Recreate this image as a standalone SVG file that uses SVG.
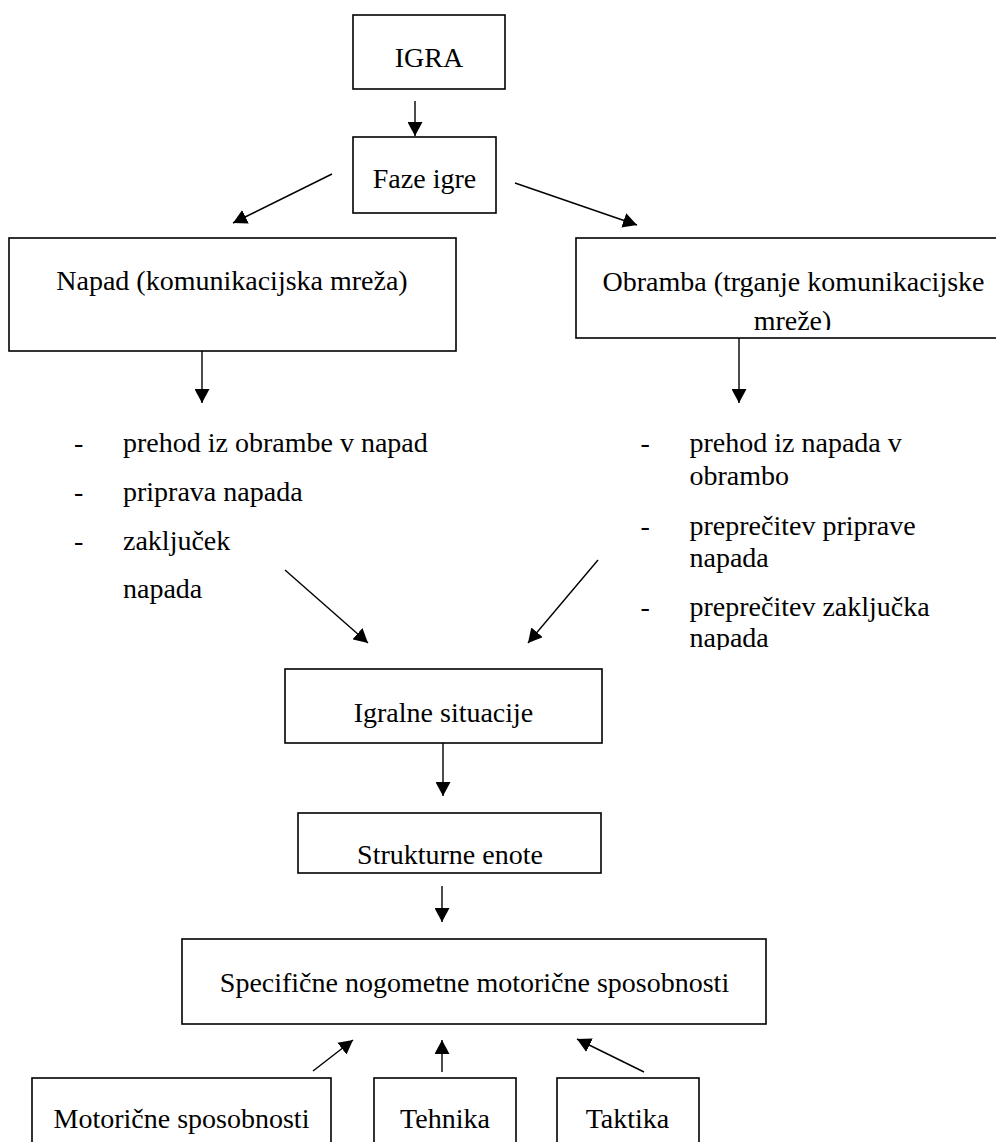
<svg xmlns="http://www.w3.org/2000/svg" width="996" height="1142" viewBox="0 0 996 1142">
<style>
.box{fill:#fff;stroke:#000;stroke-width:1.6}
.t{font-family:"Liberation Serif","Times New Roman",serif;font-size:28px;fill:#000}
.c{text-anchor:middle}
.ln{stroke:#000;stroke-width:1.4;fill:none;marker-end:url(#ah)}
</style>
<defs>
<marker id="ah" viewBox="0 0 14 15" refX="14" refY="7.5" markerWidth="14" markerHeight="15" orient="auto" markerUnits="userSpaceOnUse">
<path d="M0,0 L14,7.5 L0,15 z" fill="#000"/>
</marker>
<clipPath id="clipOb"><rect x="576" y="238" width="440" height="92"/></clipPath>
<clipPath id="clipR"><rect x="600" y="400" width="396" height="250"/></clipPath>
</defs>
<rect width="996" height="1142" fill="#fff"/>

<g id="connectors">
<line class="ln" x1="415" y1="101" x2="415" y2="136"/>
<line class="ln" x1="332" y1="174" x2="233" y2="223"/>
<line class="ln" x1="515" y1="183" x2="637" y2="225"/>
<line class="ln" x1="202" y1="351" x2="202" y2="403"/>
<line class="ln" x1="739" y1="338" x2="739" y2="403"/>
<line class="ln" x1="285" y1="570" x2="368" y2="643"/>
<line class="ln" x1="598" y1="560" x2="528" y2="643"/>
<line class="ln" x1="443" y1="743" x2="443" y2="796"/>
<line class="ln" x1="442" y1="886" x2="442" y2="922"/>
<line class="ln" x1="313" y1="1071" x2="353" y2="1040"/>
<line class="ln" x1="442" y1="1072" x2="442" y2="1040"/>
<line class="ln" x1="644" y1="1072" x2="577" y2="1039"/>
</g>

<g id="igra">
<rect class="box" x="353" y="15" width="152" height="74"/>
<text class="t c" x="429" y="67">IGRA</text>
</g>

<g id="faze-igre">
<rect class="box" x="353" y="137" width="143" height="76"/>
<text class="t c" x="424.5" y="188">Faze igre</text>
</g>

<g id="napad">
<rect class="box" x="9" y="238" width="447" height="113"/>
<text class="t c" x="232" y="290">Napad (komunikacijska mreža)</text>
</g>

<g id="obramba">
<rect class="box" x="576" y="238" width="440" height="100"/>
<g clip-path="url(#clipOb)">
<text class="t c" x="793.5" y="291">Obramba (trganje komunikacijske</text>
<text class="t c" x="792.5" y="329.5">mreže)</text>
</g>
</g>

<g id="napad-list">
<text class="t" x="74" y="452">-</text>
<text class="t" x="123" y="452">prehod iz obrambe v napad</text>
<text class="t" x="74" y="501">-</text>
<text class="t" x="123" y="501">priprava napada</text>
<text class="t" x="74" y="549.5">-</text>
<text class="t" x="123" y="549.5">zaključek</text>
<text class="t" x="123" y="598">napada</text>
</g>

<g id="obramba-list" clip-path="url(#clipR)">
<text class="t" x="640.5" y="452">-</text>
<text class="t" x="689.5" y="452">prehod iz napada v</text>
<text class="t" x="689.5" y="485">obrambo</text>
<text class="t" x="640.5" y="534.5">-</text>
<text class="t" x="689.5" y="534.5">preprečitev priprave</text>
<text class="t" x="689.5" y="567">napada</text>
<text class="t" x="640.5" y="615.5">-</text>
<text class="t" x="689.5" y="615.5">preprečitev zaključka</text>
<text class="t" x="689.5" y="647">napada</text>
</g>

<g id="igralne-situacije">
<rect class="box" x="285" y="669" width="317" height="74"/>
<text class="t c" x="443.5" y="721.5">Igralne situacije</text>
</g>

<g id="strukturne-enote">
<rect class="box" x="298" y="813" width="303" height="60"/>
<text class="t c" x="450" y="864">Strukturne enote</text>
</g>

<g id="specificne">
<rect class="box" x="182" y="939" width="584" height="85"/>
<text class="t c" x="474.5" y="991.5">Specifične nogometne motorične sposobnosti</text>
</g>

<g id="motoricne">
<rect class="box" x="32" y="1078" width="299" height="80"/>
<text class="t c" x="181.5" y="1128">Motorične sposobnosti</text>
</g>

<g id="tehnika">
<rect class="box" x="374" y="1078" width="142" height="80"/>
<text class="t c" x="445" y="1128">Tehnika</text>
</g>

<g id="taktika">
<rect class="box" x="557" y="1078" width="142" height="80"/>
<text class="t c" x="627.5" y="1128">Taktika</text>
</g>
</svg>
